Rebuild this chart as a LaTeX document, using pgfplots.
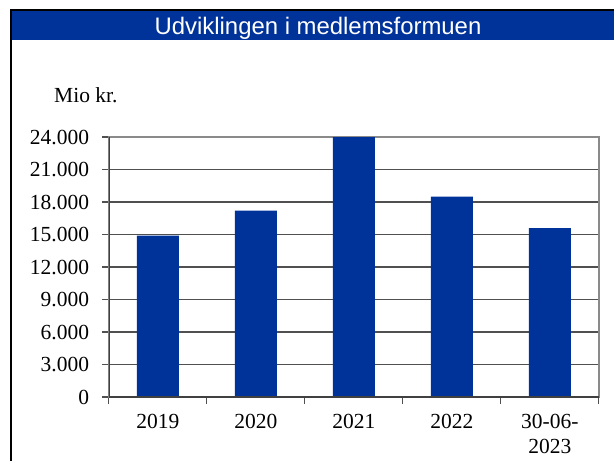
\documentclass[border=0pt]{standalone}
\usepackage{pgfplots}
\pgfplotsset{compat=1.18}
\usepackage{fontspec}
\setmainfont{Liberation Serif}
\newfontfamily\titlefont{Liberation Sans}
\definecolor{barblue}{HTML}{003399}
\definecolor{gridgray}{HTML}{505050}
\definecolor{framegray}{HTML}{8A8A8A}
\definecolor{axisdark}{HTML}{404040}
\begin{document}
\fontsize{21.5bp}{25bp}\selectfont
\begin{tikzpicture}[x=1bp,y=1bp]
\fill[white] (0,0) rectangle (614,461);
\fill[barblue] (11,420.5) rectangle (614,450);
\draw[black, line width=2bp] (11,0) -- (11,451) -- (614,451);
\node[anchor=base, inner sep=0, text=white, font=\titlefont\fontsize{23.9bp}{28bp}\selectfont] at (318,426) {Udviklingen i medlemsformuen};
\node[anchor=base west, inner sep=0] at (54,358) {Mio kr.};
\begin{axis}[
  at={(111,59)}, anchor=south west, scale only axis,
  width=490bp, height=260bp,
  ymin=0, ymax=24000, ytick={0,3000,...,24000},
  xmin=0.5, xmax=5.5, xtick={0.5,1.5,...,5.5},
  xticklabels={2019,2020,2021,2022,{30-06-\\2023}},
  x tick label as interval,
  scaled y ticks=false,
  /pgf/number format/.cd, 1000 sep={.}, assume math mode=true, /pgfplots/.cd,
  ytick pos=left, xtick pos=bottom,
  tick align=outside, major tick length=6.5bp,
  tick style={gridgray, line width=1.2bp},
  ymajorgrids, major grid style={gridgray, line width=1.2bp},
  axis line style={draw=framegray, line width=2bp},
  yticklabel style={anchor=east, inner sep=0pt, xshift=-13bp},
  xticklabel style={anchor=north, inner sep=0pt, yshift=-10bp, align=center},
]
\addplot[ybar, bar width=42bp, fill=barblue, draw=none] coordinates {(1,14900) (2,17200) (3,24000) (4,18500) (5,15600)};
\draw[axisdark, line width=2bp] (rel axis cs:0,1) -- (rel axis cs:0,0) -- (rel axis cs:1,0);
\end{axis}
\pgfresetboundingbox
\path[use as bounding box] (0,0) rectangle (614,461);
\end{tikzpicture}
\end{document}
